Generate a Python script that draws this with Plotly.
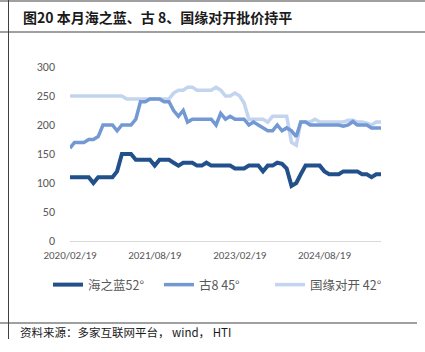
import pandas as pd
import plotly.graph_objects as go

start_date = "2020-02-19"
n_points = 67
dates = pd.date_range(start=start_date, periods=n_points, freq=pd.DateOffset(months=1))

haizhilan = [110, 110, 110, 110, 110, 100, 110, 110, 110, 110,
             120, 150, 150, 150, 140, 140, 140, 140, 130, 140,
             140, 140, 135, 130, 135, 135, 135, 130, 130, 135,
             130, 130, 130, 130, 130, 125, 125, 125, 130, 130,
             130, 120, 130, 130, 135, 133, 125, 95, 100, 115,
             130, 130, 130, 130, 120, 115, 115, 115, 120, 120,
             120, 120, 115, 115, 110, 115, 115]
gu8 = [160, 170, 170, 170, 175, 175, 180, 200, 200, 200,
       190, 200, 200, 200, 210, 240, 240, 245, 245, 245,
       240, 240, 225, 215, 225, 205, 210, 210, 210, 210,
       210, 200, 220, 210, 215, 210, 210, 210, 200, 205,
       200, 195, 190, 190, 200, 190, 195, 190, 180, 205,
       205, 200, 200, 200, 200, 200, 200, 200, 198, 200,
       206, 200, 200, 200, 195, 195, 195]
guoyuan = [250, 250, 250, 250, 250, 250, 250, 250, 250, 250,
           250, 250, 245, 245, 245, 245, 245, 245, 245, 245,
           245, 245, 255, 260, 260, 265, 265, 260, 260, 260,
           260, 265, 260, 250, 250, 255, 250, 238, 210, 210,
           210, 210, 205, 215, 215, 215, 215, 170, 165, 205,
           205, 205, 210, 205, 205, 205, 205, 205, 205, 208,
           208, 205, 205, 203, 200, 205, 205]

series_names = ["海之蓝52°", "古8 45°", "国缘对开 42°"]
tick_dates = ["2020-02-19", "2021-08-19", "2023-02-19", "2024-08-19"]
tick_labels = ["2020/02/19", "2021/08/19", "2023/02/19", "2024/08/19"]
title_text = "图20 本月海之蓝、古 8、国缘对开批价持平"
source_text = "资料来源：多家互联网平台， wind， HTI"

colors = ["#21508B", "#7299D3", "#C3D4EE"]
widths = [4, 3.5, 3.5]

W, H = 425, 352
L, R, T, B = 70, 381, 67, 241


def fx(px):
    return (px - L) / (R - L)


def fy(py):
    return (B - py) / (B - T)


CJK = "Noto Sans CJK SC, Noto Sans, sans-serif"

fig = go.Figure()
traces = []
for name, vals, col, w in zip(series_names, [haizhilan, gu8, guoyuan], colors, widths):
    traces.append(go.Scatter(x=dates, y=vals, name=name, mode="lines",
                             line=dict(color=col, width=w)))
# draw lighter series beneath, keep legend order
for i, tr in enumerate(reversed(traces)):
    tr.legendrank = 3 - i
    fig.add_trace(tr)

fig.update_layout(
    width=W, height=H,
    margin=dict(l=L, r=W - R, t=T, b=H - B),
    paper_bgcolor="white", plot_bgcolor="white",
    font=dict(family=CJK, color="#595959", size=11),
    showlegend=True,
    legend=dict(orientation="h", x=fx(48), xanchor="left", y=fy(285), yanchor="middle",
                font=dict(size=12.5, color="#595959", family=CJK),
                entrywidth=66, entrywidthmode="pixels", itemwidth=30,
                traceorder="normal", bgcolor="rgba(0,0,0,0)"),
    xaxis=dict(range=[dates[0], dates[-1]], tickvals=tick_dates, ticktext=tick_labels,
               showgrid=False, showline=True, linecolor="#D9D9D9", linewidth=1,
               ticks="", tickfont=dict(size=11, color="#595959", family="Calibri, Carlito, Liberation Sans, sans-serif"),
               zeroline=False, ticklabelstandoff=4),
    yaxis=dict(range=[0, 300], tickvals=[0, 50, 100, 150, 200, 250, 300],
               showgrid=False, showline=False, zeroline=False, ticks="",
               tickfont=dict(size=12, color="#595959", family="Calibri, Carlito, Liberation Sans, sans-serif"),
               ticklabelstandoff=14),
)

shapes = [
    dict(type="line", xref="paper", yref="paper", x0=fx(0), x1=fx(425), y0=fy(1), y1=fy(1),
         line=dict(color="#404040", width=1)),
    dict(type="line", xref="paper", yref="paper", x0=fx(0), x1=fx(425), y0=fy(32), y1=fy(32),
         line=dict(color="#404040", width=1)),
    dict(type="line", xref="paper", yref="paper", x0=fx(8.5), x1=fx(8.5), y0=fy(0), y1=fy(339),
         line=dict(color="#404040", width=1)),
    dict(type="line", xref="paper", yref="paper", x0=fx(0), x1=fx(417), y0=fy(323), y1=fy(323),
         line=dict(color="#404040", width=1)),
]
fig.update_layout(shapes=shapes)

fig.add_annotation(text="<b>" + title_text + "</b>", xref="paper", yref="paper",
                   x=fx(21), y=fy(17), xanchor="left", yanchor="middle", showarrow=False,
                   font=dict(size=14, color="#1a1a1a", family=CJK))
fig.add_annotation(text=source_text, xref="paper", yref="paper",
                   x=fx(18), y=fy(332), xanchor="left", yanchor="middle", showarrow=False,
                   font=dict(size=11.5, color="#1a1a1a", family=CJK))

fig.write_html("out.html")
